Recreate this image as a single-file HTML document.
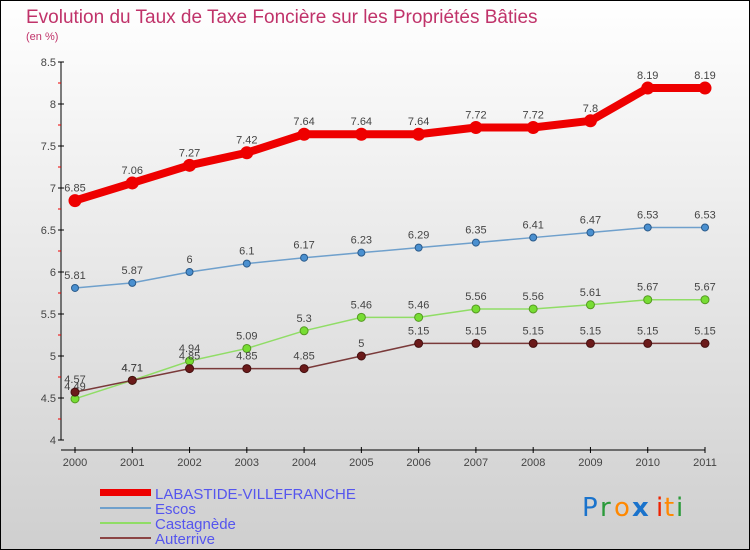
<!DOCTYPE html>
<html><head><meta charset="utf-8"><style>
body{margin:0}
svg{display:block;font-family:"Liberation Sans",sans-serif}
</style></head><body>
<svg width="750" height="550" xmlns="http://www.w3.org/2000/svg">
<defs><linearGradient id="bg" x1="0" y1="0" x2="0" y2="1"><stop offset="0" stop-color="#ffffff"/><stop offset="1" stop-color="#cfcfcf"/></linearGradient></defs>
<rect x="0.5" y="0.5" width="749" height="549" fill="url(#bg)" stroke="#000"/>
<text x="26" y="23" font-size="19" fill="#c0336a">Evolution du Taux de Taxe Foncière sur les Propriétés Bâties</text>
<text x="26" y="40" font-size="11" fill="#c0336a">(en %)</text>
<g id="axes"></g>
<g id="series"></g>
<g font-size="15" fill="#5555ee">
<rect x="100" y="489" width="51" height="7" fill="#ee0000"/>
<text x="155" y="499">LABASTIDE-VILLEFRANCHE</text>
<rect x="100" y="507" width="51" height="2" fill="#6fa0cc"/>
<text x="155" y="514">Escos</text>
<rect x="100" y="522" width="51" height="2" fill="#90dd66"/>
<text x="155" y="529">Castagnède</text>
<rect x="100" y="537" width="51" height="2" fill="#8b4444"/>
<text x="155" y="544">Auterrive</text>
</g>
<g font-size="26" font-family="'DejaVu Sans',sans-serif">
<text x="582" y="516" fill="#1a73cc">P</text><text x="600" y="516" fill="#2a9a3a">r</text><text x="614" y="516" fill="#ff8800">o</text><text x="632" y="516" fill="#1a73cc" font-weight="bold">x</text><text x="656" y="516" fill="#ee2200">i</text><text x="664" y="516" fill="#ff8800">t</text><text x="676" y="516" fill="#2a9a3a">i</text>
</g>
</svg>
<script>
const years=[2000,2001,2002,2003,2004,2005,2006,2007,2008,2009,2010,2011];
const yTicks=[4,4.5,5,5.5,6,6.5,7,7.5,8,8.5];
const labastide=[6.85,7.06,7.27,7.42,7.64,7.64,7.64,7.72,7.72,7.8,8.19,8.19];
const escos=[5.81,5.87,6,6.1,6.17,6.23,6.29,6.35,6.41,6.47,6.53,6.53];
const castagnede=[4.49,4.71,4.94,5.09,5.3,5.46,5.46,5.56,5.56,5.61,5.67,5.67];
const auterrive=[4.57,4.71,4.85,4.85,4.85,5,5.15,5.15,5.15,5.15,5.15,5.15];
const NS="http://www.w3.org/2000/svg";
const xS=i=>75+i*(630/11);
const yS=v=>440-(v-4)*84;
function mk(t,a,p){const e=document.createElementNS(NS,t);for(const k in a)e.setAttribute(k,a[k]);p.appendChild(e);return e;}
const ax=document.getElementById('axes');
let l=mk('line',{x1:61,y1:62,x2:61,y2:440,stroke:'#000'},ax);


l=mk('line',{x1:61,y1:450,x2:705,y2:450,stroke:'#000'},ax);


yTicks.forEach(v=>{
  const y=yS(v);
  mk('line',{x1:58,y1:y,x2:64,y2:y,stroke:'#000'},ax);
  if(v<8.5){mk('line',{x1:58,y1:yS(v+0.25),x2:61,y2:yS(v+0.25),stroke:'#e00'},ax);}
  const t=mk('text',{x:56,y:y+4,'text-anchor':'end','font-size':11,fill:'#444'},ax);
  t.textContent=String(v);
  
  
});
years.forEach((yr,i)=>{
  const x=xS(i);
  mk('line',{x1:x,y1:447,x2:x,y2:453,stroke:'#000'},ax);
  const t=mk('text',{x:x,y:466,'text-anchor':'middle','font-size':11,fill:'#444'},ax);
  t.textContent=yr;
  
  
});
const sg=document.getElementById('series');
function series(vals,name,color,w,r,dot,dotStroke){
  const g=mk('g',{},sg);
  
  
  const p=mk('polyline',{points:vals.map((v,i)=>xS(i)+','+yS(v)).join(' '),fill:'none',stroke:color,'stroke-width':w,'stroke-linejoin':'round'},g);
  
  
  vals.forEach((v,i)=>{
    const c=mk('circle',{cx:xS(i),cy:yS(v),r:r,fill:dot,stroke:dotStroke,'stroke-width':1},g);
    
    
    const t=mk('text',{x:xS(i),y:yS(v)-9,'text-anchor':'middle','font-size':11,fill:'#444'},g);
    t.textContent=String(v);
    
    
  });
}
series(castagnede,'castagnede','#90dd66',1.5,4,'#77dd33','#559922');
series(auterrive,'auterrive','#7a3a3a',1.5,4,'#6b1a1a','#441010');
series(escos,'escos','#6fa0cc',1.5,3.5,'#4a90d0','#2a5a8a');
series(labastide,'labastide','#ee0000',8,6,'#ee0000','#ee0000');
</script>
</body></html>
